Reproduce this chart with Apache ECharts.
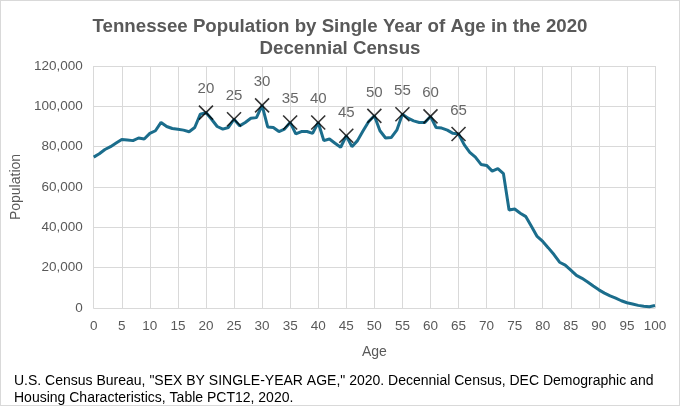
<!DOCTYPE html>
<html>
<head>
<meta charset="utf-8">
<script src="https://cdn.jsdelivr.net/npm/echarts@6/dist/echarts.min.js"></script>
<style>
  html, body { margin: 0; padding: 0; background: #fff; }
  #chart { width: 678px; height: 404px; border: 1px solid #d9d9d9; }
</style>
</head>
<body>
<div id="chart"></div>
<script>
const ages = Array.from({ length: 101 }, (_, i) => i);
const population = [
  74800, 76500, 78600, 80000, 81800, 83600, 83300, 83000, 84300, 83800,
  86600, 87900, 92000, 90000, 89000, 88600, 88200, 87400, 89500, 96100,
  96900, 93600, 90000, 88700, 89500, 93600, 90300, 92000, 94100, 94400,
  100500, 89800, 89500, 87500, 88700, 92000, 86300, 87500, 87500, 86600,
  92000, 83000, 83800, 81700, 79700, 85400, 80000, 83000, 87900, 92500,
  95300, 87900, 84300, 84500, 88200, 96100, 94100, 92800, 92000, 92000,
  95000, 89500, 89200, 88200, 86600, 86300, 81000, 77200, 74800, 71200,
  70700, 67900, 69100, 66600, 48600, 49100, 47000, 45300, 40400, 35500,
  33000, 29800, 26500, 22700, 21300, 18800, 16200, 14700, 12900, 10900,
  9000, 7400, 6000, 4900, 3600, 2600, 2000, 1300, 900, 600,
  1200
];
const markedAges = [20, 25, 30, 35, 40, 45, 50, 55, 60, 65];
const yTicks = [0, 20000, 40000, 60000, 80000, 100000, 120000];

const chart = echarts.init(document.getElementById("chart"));

const axisText = { color: "#595959", fontFamily: "Liberation Sans, Arial", fontSize: 13.5 };

chart.setOption({
  animation: false,
  title: [
    {
      text: "Tennessee Population by Single Year of Age in the 2020\nDecennial Census",
      left: "center",
      top: 10,
      textStyle: {
        color: "#595959",
        fontFamily: "Liberation Sans, Arial",
        fontWeight: "bold",
        fontSize: 18.7,
        lineHeight: 22,
      },
    },
    {
      text: 'U.S. Census Bureau, "SEX BY SINGLE-YEAR AGE," 2020. Decennial Census, DEC Demographic and\nHousing Characteristics, Table PCT12, 2020.',
      left: 8,
      top: 367,
      textStyle: {
        color: "#000",
        fontFamily: "Liberation Sans, Arial",
        fontWeight: "normal",
        fontSize: 14,
        lineHeight: 17,
      },
    },
  ],
  grid: { left: 92, right: 24, top: 65, bottom: 97 },
  xAxis: {
    type: "value",
    min: 0,
    max: 100,
    interval: 5,
    name: "Age",
    nameLocation: "middle",
    nameGap: 37,
    nameTextStyle: { ...axisText, fontSize: 14 },
    axisLine: { show: true, lineStyle: { color: "#d9d9d9" } },
    axisTick: { show: false },
    axisLabel: { ...axisText, margin: 11 },
    splitLine: { show: true, lineStyle: { color: "#d9d9d9", width: 1 } },
  },
  yAxis: {
    type: "value",
    min: yTicks[0],
    max: yTicks[yTicks.length - 1],
    interval: yTicks[1] - yTicks[0],
    name: "Population",
    nameLocation: "middle",
    nameGap: 66,
    nameRotate: 90,
    nameTextStyle: { ...axisText, fontSize: 14 },
    axisLine: { show: false },
    axisTick: { show: false },
    axisLabel: {
      ...axisText,
      margin: 11,
      formatter: (v) => v.toLocaleString("en-US"),
    },
    splitLine: { show: true, lineStyle: { color: "#d9d9d9", width: 1 } },
  },
  series: [
    {
      type: "line",
      data: ages.map((a, i) => [a, population[i]]),
      showSymbol: false,
      smooth: false,
      lineStyle: { color: "#1b6d8c", width: 3 },
      z: 2,
    },
    {
      type: "scatter",
      data: markedAges.map((a) => [a, population[a]]),
      symbol: "path://M0,0L10,10M10,0L0,10",
      symbolSize: 14,
      itemStyle: { color: "transparent", borderColor: "#000", borderWidth: 1.6 },
      label: {
        show: true,
        position: "top",
        distance: 8,
        formatter: (p) => p.value[0],
        color: "#404040",
        fontFamily: "Liberation Sans, Arial",
        fontSize: 15,
      },
      z: 3,
    },
  ],
});
</script>
</body>
</html>
